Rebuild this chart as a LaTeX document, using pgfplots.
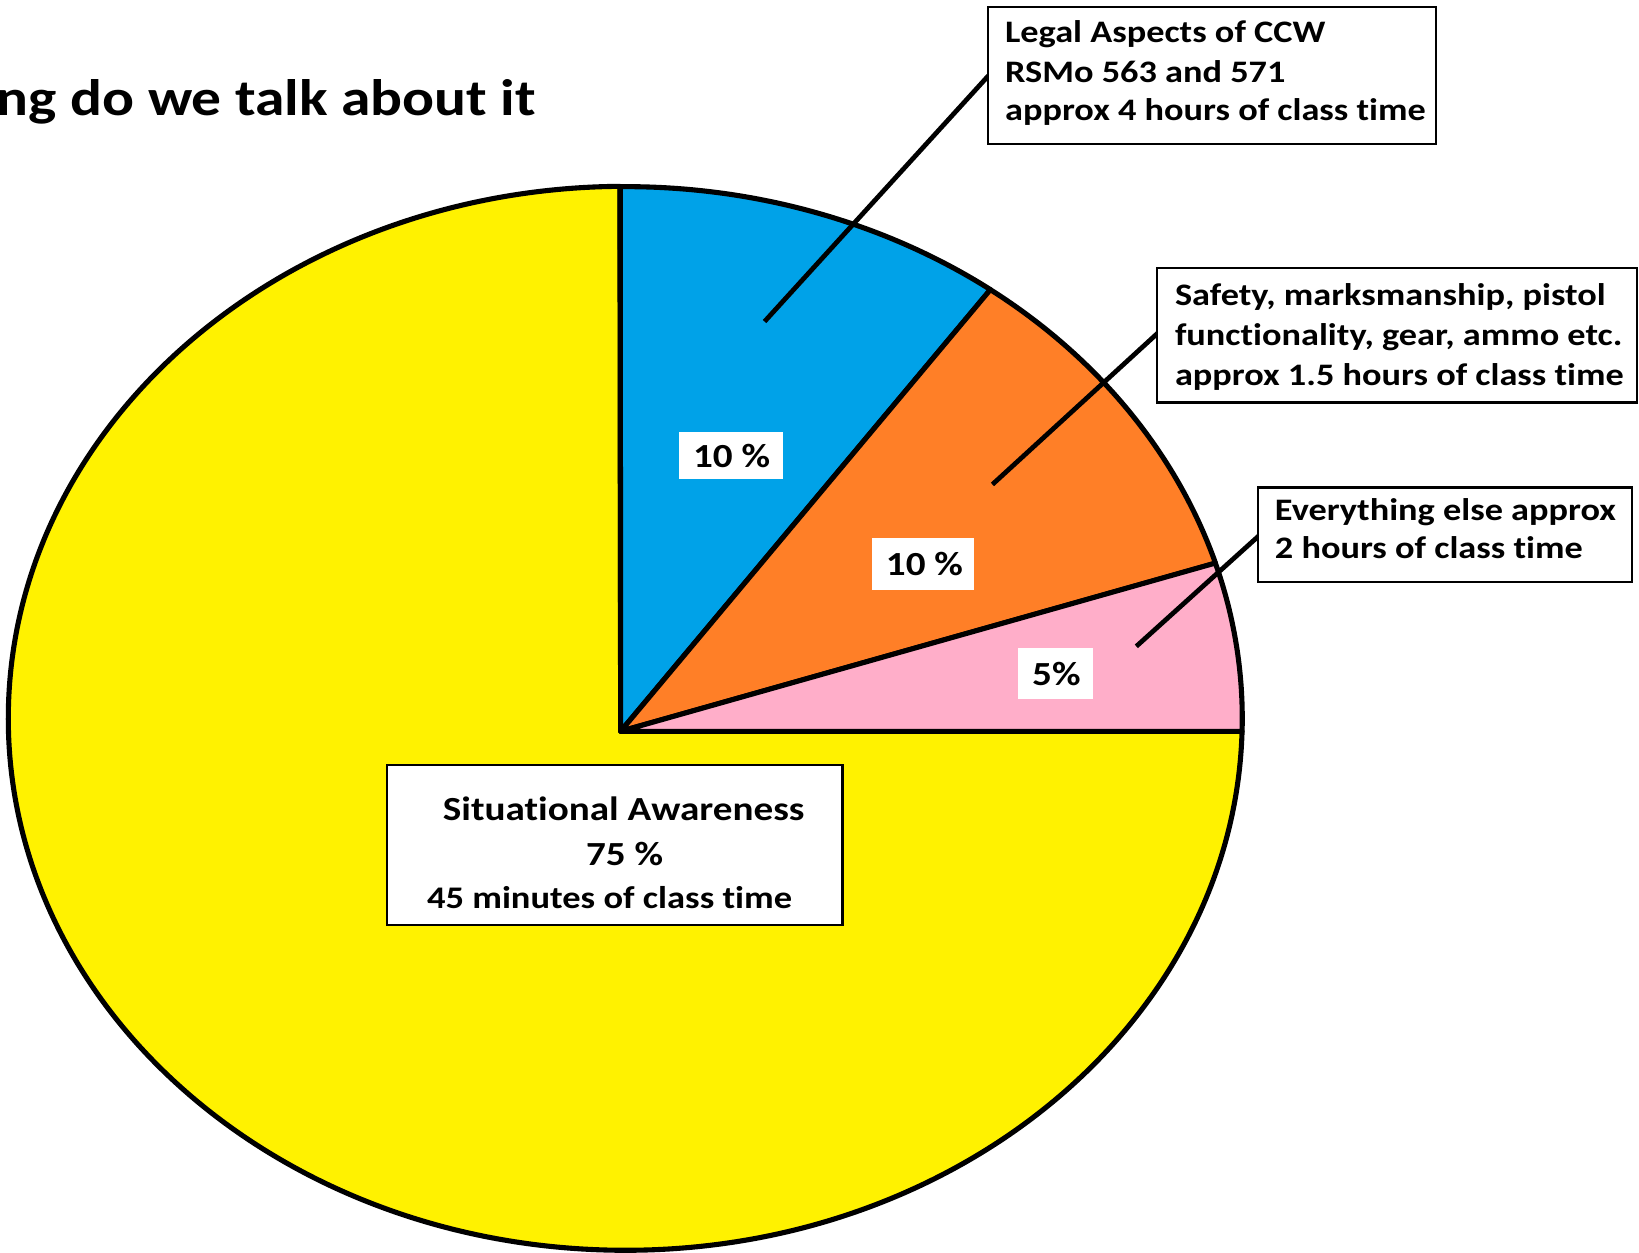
\documentclass[border=0pt]{standalone}
\usepackage{pgfplots}
\pgfplotsset{compat=1.18}
\usepackage{pgfplotstable}
\usepackage{fontspec}
\setmainfont{Carlito}[FakeStretch=1.16, Ligatures=NoCommon]

\definecolor{pieyellow}{RGB}{255,242,0}
\definecolor{pieblue}{RGB}{0,162,232}
\definecolor{pieorange}{RGB}{255,127,39}
\definecolor{piepink}{RGB}{255,174,201}

\pgfplotstableread[col sep=comma]{
label,value
Legal,10
Safety,10
Else,5
SA,75
}\piedata

\begin{document}
\begin{tikzpicture}
\pgfplotstablegetelem{0}{value}\of\piedata \let\vA\pgfplotsretval
\pgfplotstablegetelem{1}{value}\of\piedata \let\vB\pgfplotsretval
\pgfplotstablegetelem{2}{value}\of\piedata \let\vC\pgfplotsretval
\pgfplotstablegetelem{3}{value}\of\piedata \let\vD\pgfplotsretval
% hand-drawn pie: angles measured on the ellipse, start at the top
\pgfmathsetmacro\degper{3.676}
\pgfmathsetmacro\aA{90.5}
\pgfmathsetmacro\aB{\aA-\degper*\vA}
\pgfmathsetmacro\aC{\aB-\degper*\vB}
\pgfmathsetmacro\aD{\aC-\degper*\vC}
\pgfmathsetmacro\aE{\aA-360}
\def\cx{626}\def\cy{534}\def\rx{617}\def\ry{532}
\def\px{621}\def\py{521}
\begin{axis}[x=0.01cm, y=0.01cm, xmin=0, xmax=1639, ymin=0, ymax=1252,
  hide axis, clip=true, scale only axis]
% slices
\tikzset{slice/.style={draw=black, line width=1.45pt, line join=round}}
\fill[pieyellow, slice] (axis cs:\px,\py) -- (axis cs:{\cx+\rx*cos(\aD)},{\cy+\ry*sin(\aD)})
  arc[start angle=\aD, end angle=\aE, x radius=6.17cm, y radius=5.32cm] -- cycle;
\fill[pieblue, slice] (axis cs:\px,\py) -- (axis cs:{\cx+\rx*cos(\aA)},{\cy+\ry*sin(\aA)})
  arc[start angle=\aA, end angle=\aB, x radius=6.17cm, y radius=5.32cm] -- cycle;
\fill[pieorange, slice] (axis cs:\px,\py) -- (axis cs:{\cx+\rx*cos(\aB)},{\cy+\ry*sin(\aB)})
  arc[start angle=\aB, end angle=\aC, x radius=6.17cm, y radius=5.32cm] -- cycle;
\fill[piepink, slice] (axis cs:\px,\py) -- (axis cs:{\cx+\rx*cos(\aC)},{\cy+\ry*sin(\aC)})
  arc[start angle=\aC, end angle=\aD, x radius=6.17cm, y radius=5.32cm] -- cycle;
% title
\node[anchor=base east, inner sep=0] at (axis cs:537,1137) {\fontsize{14.6}{17}\selectfont\bfseries ng do we talk about it};
% leader lines
\draw[black, line width=1.35pt] (axis cs:989,1177) -- (axis cs:765,931);
\draw[black, line width=1.35pt] (axis cs:1159,920) -- (axis cs:993,768);
\draw[black, line width=1.35pt] (axis cs:1260,717) -- (axis cs:1137,606);
% callout boxes
\draw[black, fill=white, line width=0.6pt] (axis cs:989,1246) rectangle (axis cs:1437,1109);
\draw[black, fill=white, line width=0.6pt] (axis cs:1158,985) rectangle (axis cs:1638,850);
\draw[black, fill=white, line width=0.6pt] (axis cs:1259,765) rectangle (axis cs:1633,670);
\draw[black, fill=white, line width=0.6pt] (axis cs:387,487) rectangle (axis cs:843,327);
\begin{scope}[every node/.style={inner sep=0, font=\fontsize{8.9}{10}\selectfont\bfseries}]
\node[anchor=base west] at (axis cs:1005,1210) {Legal Aspects of CCW};
\node[anchor=base west] at (axis cs:1005,1170) {RSMo 563 and 571};
\node[anchor=base west] at (axis cs:1005,1132) {approx 4 hours of class time};
\node[anchor=base west] at (axis cs:1175,947) {Safety, marksmanship, pistol};
\node[anchor=base west] at (axis cs:1175,907) {functionality, gear, ammo etc.};
\node[anchor=base west] at (axis cs:1175,867) {approx 1.5 hours of class time};
\node[anchor=base west] at (axis cs:1275,732) {Everything else approx};
\node[anchor=base west] at (axis cs:1275,694) {2 hours of class time};
\end{scope}
\begin{scope}[every node/.style={inner sep=0, font=\fontsize{9.6}{11}\selectfont\bfseries}]
\node[anchor=base] at (axis cs:624,432) {Situational Awareness};
\node[anchor=base] at (axis cs:625,387) {75 \%};
\node[anchor=base, font=\fontsize{8.95}{10}\selectfont\bfseries] at (axis cs:610,344) {45 minutes of class time};
\end{scope}
% percentage labels
\fill[white] (axis cs:679,820) rectangle (axis cs:783,773);
\fill[white] (axis cs:873,714) rectangle (axis cs:975,662);
\fill[white] (axis cs:1019,604) rectangle (axis cs:1094,553);
\begin{scope}[every node/.style={inner sep=0, font=\fontsize{9.6}{11}\selectfont\bfseries}]
\node[anchor=center] at (axis cs:732,796.5) {10 \%};
\node[anchor=center] at (axis cs:925,688) {10 \%};
\node[anchor=center] at (axis cs:1057,578.5) {5\%};
\end{scope}
\end{axis}
\pgfresetboundingbox
\useasboundingbox (0,0) rectangle (16.39cm,12.52cm);
\end{tikzpicture}
\end{document}
